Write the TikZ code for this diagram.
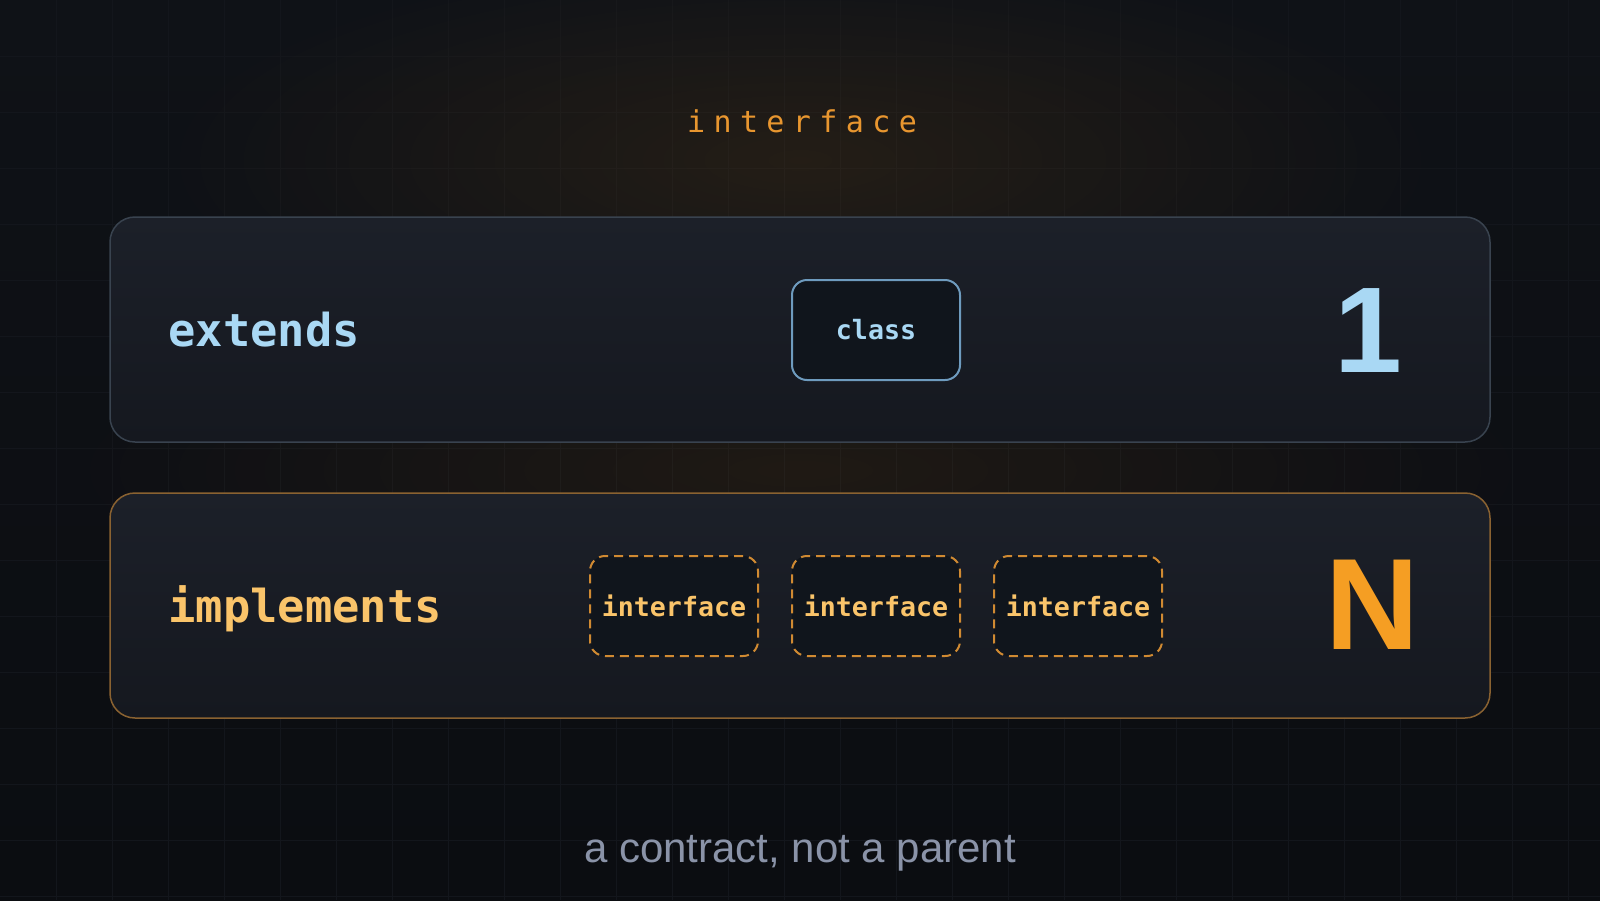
\documentclass[tikz,border=0pt]{standalone}
\usepackage{fontspec}
\usetikzlibrary{fadings}
\newfontfamily\monof{DejaVu Sans Mono}
\newfontfamily\sansf{Liberation Sans}
\definecolor{bgtop}{HTML}{0F1217}
\definecolor{bgbot}{HTML}{0B0D11}
\definecolor{gridc}{HTML}{13161C}
\definecolor{glowc}{HTML}{C57A18}
\definecolor{rowtop}{HTML}{1C2029}
\definecolor{rowbot}{HTML}{15181F}
\definecolor{rowedge}{HTML}{39434F}
\definecolor{rowedgeB}{HTML}{8A6231}
\definecolor{bluetxt}{HTML}{A9D8F4}
\definecolor{blueedge}{HTML}{6E9BBE}
\definecolor{chipfill}{HTML}{10151C}
\definecolor{orangetxt}{HTML}{FAC46A}
\definecolor{orangeedge}{HTML}{D08A32}
\definecolor{orangebig}{HTML}{F59E23}
\definecolor{titlec}{HTML}{E8962F}
\definecolor{greytxt}{HTML}{8A93A8}
\tikzfading[name=glowfade, inner color=transparent!0, outer color=transparent!100]
\newcommand\ls{\kern 4.2pt}
\begin{document}
\begin{tikzpicture}[x=0.5pt,y=-0.5pt,
  rowbox/.style={rounded corners=12.5pt, minimum width=690pt, minimum height=112.5pt,
    top color=rowtop, bottom color=rowbot, line width=0.75pt, inner sep=0pt},
  chipbox/.style={rounded corners=7.5pt, minimum width=84pt, minimum height=50pt,
    fill=chipfill, line width=1pt, inner sep=0pt},
  keyw/.style={font=\monof\bfseries\fontsize{22.7}{26}\selectfont, anchor=west, inner sep=0pt},
  chiptxt/.style={font=\monof\bfseries\fontsize{13.3}{16}\selectfont},
  bigtxt/.style={font=\sansf\bfseries\fontsize{65}{70}\selectfont, inner sep=0pt}]
\useasboundingbox (0,0) rectangle (1600,900);
% background
\shade[top color=bgtop, bottom color=bgbot] (0,0) rectangle (1600,900);
\foreach \gx in {56,112,...,1600} \draw[gridc, line width=0.5pt] (\gx,0) -- (\gx,900);
\foreach \gy in {56,112,...,900} \draw[gridc, line width=0.5pt] (0,\gy) -- (1600,\gy);
\fill[glowc, path fading=glowfade, fill opacity=0.12] (800,160) ellipse [x radius=650, y radius=210];
\fill[glowc, path fading=glowfade, fill opacity=0.10] (800,470) ellipse [x radius=750, y radius=170];
% title
\node[font=\monof\fontsize{15}{18}\selectfont, text=titlec] (title) at (802,121)
  {i\ls n\ls t\ls e\ls r\ls f\ls a\ls c\ls e};
% rows
\node[rowbox, draw=rowedge] (row1) at (800,329.5) {};
\node[rowbox, draw=rowedgeB] (row2) at (800,605.5) {};
\node[keyw, text=bluetxt] (ext) at (168,330) {extends};
\node[keyw, text=orangetxt] (impl) at (168,609) {implements};
\node[chipbox, draw=blueedge] (cls) at (876,330) {};
\node[chiptxt, text=bluetxt] at (cls) {class};
\foreach \cx/\nm in {674/i1, 876/i2, 1078/i3} {
  \node[chipbox, draw=orangeedge, dash pattern=on 4.5pt off 3pt] (\nm) at (\cx,606) {};
  \node[chiptxt, text=orangetxt] at (\nm) {interface};
}
\node[bigtxt, text=bluetxt, font=\sansf\bfseries\fontsize{61}{66}\selectfont] (one) at (1368,331) {1};
\node[bigtxt, text=orangebig] (en) at (1372,605) {N};
% caption
\node[font=\sansf\fontsize{21}{24}\selectfont, text=greytxt] (cap) at (800,853) {a contract, not a parent};
\end{tikzpicture}
\end{document}
